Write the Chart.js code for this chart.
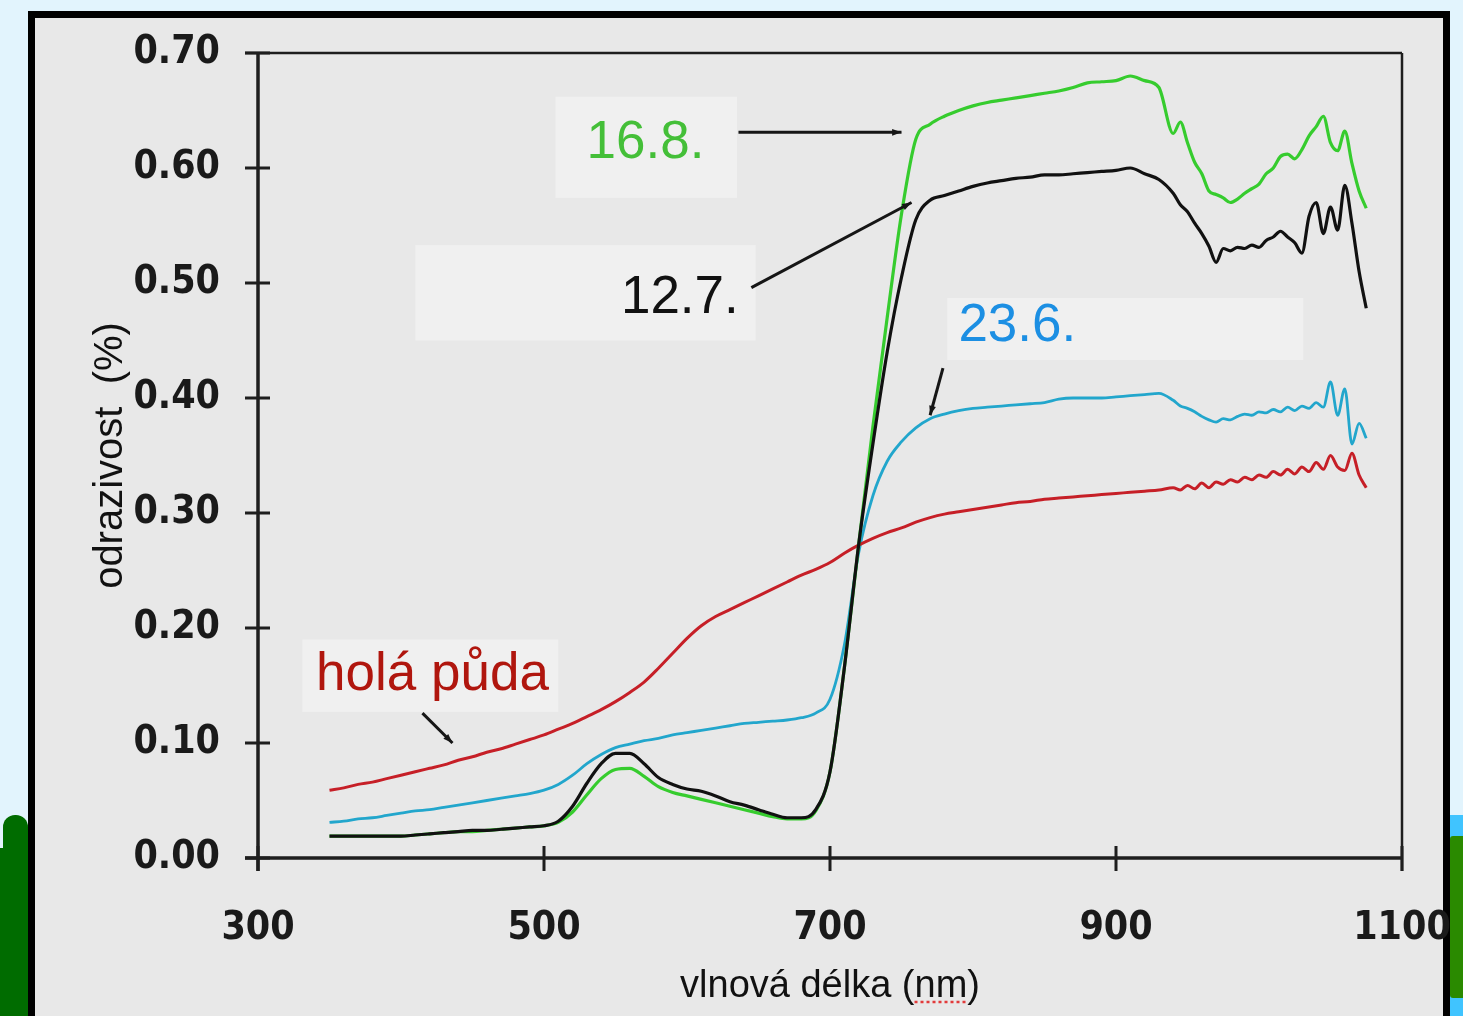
<!DOCTYPE html>
<html>
<head>
<meta charset="utf-8">
<script src="https://cdn.jsdelivr.net/npm/chart.js@4/dist/chart.umd.min.js"></script>
<style>
  html, body { margin: 0; padding: 0; }
  body { width: 1463px; height: 1016px; background: #e2f4fd; position: relative; overflow: hidden; }
  .frame { position: absolute; left: 28px; top: 11px; width: 1422px; height: 1100px; box-sizing: border-box;
           border: 7px solid #000; background: #e8e8e8; }
  .leaf1 { position: absolute; left: 3px; top: 815px; width: 25px; height: 60px; background: #006c00; border-radius: 12px 12px 0 0; }
  .leaf2 { position: absolute; left: 0; top: 848px; width: 28px; height: 170px; background: #006c00; }
  .sky { position: absolute; left: 1450px; top: 815px; width: 13px; height: 201px; background: #40c4ff; }
  .leaf3 { position: absolute; left: 1450px; top: 836px; width: 13px; height: 162px; background: #2a8a00; border-radius: 3px 0 0 3px; }
  #chart { position: absolute; left: 0; top: 0; }
</style>
</head>
<body>
<div class="frame"></div>
<div class="leaf1"></div>
<div class="leaf2"></div>
<div class="sky"></div>
<div class="leaf3"></div>
<canvas id="chart" width="1463" height="1016"></canvas>
<script>
// wavelength (nm)
const wavelengths = [
  350, 360, 370, 380, 390, 400, 410, 420, 430, 440,
  450, 460, 470, 480, 490, 500, 510, 520, 530, 540,
  550, 560, 570, 580, 590, 600, 610, 620, 630, 640,
  650, 660, 670, 680, 690, 700, 710, 720, 730, 740,
  750, 760, 770, 780, 790, 800, 810, 820, 830, 840,
  850, 860, 870, 880, 890, 900, 910, 920, 930, 940,
  945, 950, 955, 960, 965, 970, 975, 980, 985, 990,
  995, 1000, 1005, 1010, 1015, 1020, 1025, 1030, 1035, 1040,
  1045, 1050, 1055, 1060, 1065, 1070, 1075
];

// reflectance - 12.7.
const jul12 = [
  .019, .019, .019, .019, .019, .019, .020, .021, .022, .023,
  .024, .024, .025, .026, .027, .028, .032, .045, .065, .082,
  .091, .091, .082, .070, .064, .060, .058, .054, .049, .046,
  .042, .038, .035, .035, .042, .075, .165, .272, .360, .440,
  .505, .555, .572, .576, .580, .584, .587, .589, .591, .592,
  .594, .594, .595, .596, .597, .598, .600, .595, .590, .578,
  .568, .562, .552, .543, .532, .518, .530, .528, .531, .530,
  .533, .531, .537, .540, .545, .540, .535, .526, .558, .570,
  .543, .566, .546, .585, .552, .510, .478
];

// reflectance - 16.8.
const aug16 = [
  .019, .019, .019, .019, .019, .019, .020, .021, .022, .023,
  .023, .024, .025, .026, .027, .028, .031, .040, .055, .069,
  .077, .078, .071, .062, .057, .054, .051, .048, .045, .042,
  .039, .036, .034, .034, .041, .075, .165, .272, .375, .470,
  .560, .625, .638, .645, .650, .654, .657, .659, .661, .663,
  .665, .667, .670, .674, .675, .676, .680, .676, .670, .630,
  .640, .622, .605, .595, .580, .577, .574, .570, .573, .578,
  .582, .586, .595, .600, .610, .612, .608, .616, .628, .636,
  .645, .622, .615, .632, .604, .580, .565
];

// reflectance - holá půda
const bareSoil = [
  .059, .061, .064, .066, .069, .072, .075, .078, .081, .085,
  .088, .092, .095, .099, .103, .107, .112, .117, .123, .129,
  .136, .144, .153, .165, .178, .191, .202, .210, .216, .222,
  .228, .234, .240, .246, .251, .257, .265, .272, .278, .283,
  .287, .292, .296, .299, .301, .303, .305, .307, .309, .310,
  .312, .313, .314, .315, .316, .317, .318, .319, .320, .322,
  .320, .324, .321, .326, .322, .327, .325, .329, .327, .331,
  .329, .333, .331, .336, .333, .338, .334, .340, .336, .344,
  .338, .350, .340, .337, .352, .333, .322
];

// reflectance - 23.6.
const jun23 = [
  .031, .032, .034, .035, .037, .039, .041, .042, .044, .046,
  .048, .050, .052, .054, .056, .059, .064, .072, .082, .090,
  .096, .099, .102, .104, .107, .109, .111, .113, .115, .117,
  .118, .119, .120, .122, .126, .138, .185, .265, .315, .345,
  .362, .374, .382, .386, .389, .391, .392, .393, .394, .395,
  .396, .399, .400, .400, .400, .401, .402, .403, .404, .398,
  .393, .391, .388, .384, .381, .379, .382, .381, .384, .386,
  .385, .388, .387, .390, .388, .392, .389, .393, .391, .396,
  .392, .414, .385, .408, .360, .378, .365
];

// labels written onto the plot, anchored in data units
const notes = [
  { text: '16.8.', color: '#44bf38', at: [571, 0.609],
    box: [508, 635, 0.662, 0.574], line: [636, 0.631, 750, 0.631] },
  { text: '12.7.', color: '#111111', at: [595, 0.474],
    box: [410, 648, 0.533, 0.450], line: [645, 0.496, 757, 0.570] },
  { text: '23.6.', color: '#1c8fe3', at: [831, 0.450],
    box: [782, 1031, 0.487, 0.433], line: [779, 0.426, 770, 0.385] },
  { text: 'holá půda', color: '#b0160e', at: [422, 0.146],
    box: [331, 510, 0.190, 0.127], line: [415, 0.126, 436, 0.100] }
];

const toPoints = (vals) => vals.map((v, i) => ({ x: wavelengths[i], y: v }));

const framePlugin = {
  id: 'frame',
  afterDatasetsDraw(chart) {
    const { ctx, chartArea: a, scales: { x, y } } = chart;
    const line = (x1, y1, x2, y2) => { ctx.beginPath(); ctx.moveTo(x1, y1); ctx.lineTo(x2, y2); ctx.stroke(); };
    ctx.save();
    ctx.strokeStyle = '#1e1e1e';
    ctx.lineWidth = 2.5;
    line(a.left - 13, a.top, a.right, a.top);
    line(a.right, a.top, a.right, a.bottom + 13);
    ctx.lineWidth = 3.5;
    line(a.left, a.top, a.left, a.bottom + 13);
    line(a.left - 13, a.bottom, a.right, a.bottom);
    ctx.lineWidth = 3;
    y.ticks.forEach(t => {
      const py = y.getPixelForValue(t.value);
      line(a.left - 13, py, a.left + 12, py);
    });
    x.ticks.forEach(t => {
      const px = x.getPixelForValue(t.value);
      line(px, a.bottom - 12, px, a.bottom + 13);
    });
    ctx.restore();
  }
};

const notesPlugin = {
  id: 'notes',
  afterDatasetsDraw(chart) {
    const { ctx, scales: { x, y } } = chart;
    ctx.save();
    notes.forEach(n => {
      const [x1, x2, y1, y2] = n.box;
      ctx.fillStyle = 'rgba(255,255,255,0.35)';
      ctx.fillRect(x.getPixelForValue(x1), y.getPixelForValue(y1),
        x.getPixelForValue(x2) - x.getPixelForValue(x1), y.getPixelForValue(y2) - y.getPixelForValue(y1));
    });
    notes.forEach(n => {
      ctx.font = '53px "Liberation Sans", Arial, sans-serif';
      ctx.fillStyle = n.color;
      ctx.textAlign = 'center';
      ctx.textBaseline = 'alphabetic';
      ctx.fillText(n.text, x.getPixelForValue(n.at[0]), y.getPixelForValue(n.at[1]));

      const sx = x.getPixelForValue(n.line[0]), sy = y.getPixelForValue(n.line[1]);
      const ex = x.getPixelForValue(n.line[2]), ey = y.getPixelForValue(n.line[3]);
      ctx.strokeStyle = '#161616';
      ctx.lineWidth = 3;
      ctx.beginPath(); ctx.moveTo(sx, sy); ctx.lineTo(ex, ey); ctx.stroke();
      // small arrow head
      const ang = Math.atan2(ey - sy, ex - sx);
      ctx.fillStyle = '#161616';
      ctx.beginPath();
      ctx.moveTo(ex, ey);
      ctx.lineTo(ex - 10 * Math.cos(ang - 0.35), ey - 10 * Math.sin(ang - 0.35));
      ctx.lineTo(ex - 10 * Math.cos(ang + 0.35), ey - 10 * Math.sin(ang + 0.35));
      ctx.closePath();
      ctx.fill();
    });
    ctx.restore();
  },
  afterDraw(chart) {
    // red dotted spell-check mark under "nm"
    const { ctx, scales: { x } } = chart;
    const title = x.options.title.text;
    ctx.save();
    ctx.font = '38px "Liberation Sans", Arial, sans-serif';
    const full = ctx.measureText(title).width;
    const pre = ctx.measureText('vlnová délka (').width;
    const nm = ctx.measureText('nm').width;
    const cx = (x.left + x.right) / 2;
    const start = cx - full / 2 + pre;
    ctx.strokeStyle = '#e23b3b';
    ctx.lineWidth = 2.5;
    ctx.setLineDash([3, 3]);
    ctx.beginPath();
    ctx.moveTo(start, 1002);
    ctx.lineTo(start + nm, 1002);
    ctx.stroke();
    ctx.restore();
  }
};

const tickFont = { family: '"DejaVu Sans Condensed", "Liberation Sans Narrow", sans-serif', size: 39, weight: 'bold' };

new Chart(document.getElementById('chart'), {
  type: 'line',
  data: {
    datasets: [
      { label: '12.7.', data: toPoints(jul12), borderColor: '#111111', borderWidth: 3.2 },
      { label: '16.8.', data: toPoints(aug16), borderColor: '#36cc2e', borderWidth: 3.2 },
      { label: 'holá půda', data: toPoints(bareSoil), borderColor: '#c61f27', borderWidth: 3 },
      { label: '23.6.', data: toPoints(jun23), borderColor: '#22a6cc', borderWidth: 2.8 }
    ]
  },
  options: {
    responsive: false,
    animation: false,
    layout: { padding: { left: 0, top: 53, right: 61, bottom: 0 } },
    elements: {
      point: { radius: 0 },
      line: { cubicInterpolationMode: 'monotone', borderJoinStyle: 'round' }
    },
    plugins: { legend: { display: false }, tooltip: { enabled: false } },
    scales: {
      x: {
        type: 'linear', min: 300, max: 1100,
        grid: { display: false, drawTicks: false },
        border: { display: false },
        ticks: { stepSize: 200, padding: 47, color: '#1a1a1a', font: tickFont, maxRotation: 0,
                 callback: v => String(v) },
        title: { display: true, text: 'vlnová délka (nm)', color: '#111',
                 font: { family: '"Liberation Sans", Arial, sans-serif', size: 38 },
                 padding: { top: 0, bottom: 7 } },
        afterFit(scale) {
          scale.height = 158;
          scale.paddingLeft = 0;
          scale.paddingRight = 0;
        }
      },
      y: {
        min: 0, max: 0.7,
        grid: { display: false, drawTicks: false },
        border: { display: false },
        ticks: { stepSize: 0.1, padding: 38, color: '#1a1a1a', font: tickFont,
                 callback: v => v.toFixed(2) },
        title: { display: true, text: 'odrazivost  (%)', color: '#111',
                 font: { family: '"Liberation Sans", Arial, sans-serif', size: 40 },
                 padding: { top: 87, bottom: 0 } },
        afterFit(scale) {
          scale.width = 258;
          scale.paddingTop = 0;
          scale.paddingBottom = 0;
        }
      }
    }
  },
  plugins: [framePlugin, notesPlugin]
});
</script>
</body>
</html>
